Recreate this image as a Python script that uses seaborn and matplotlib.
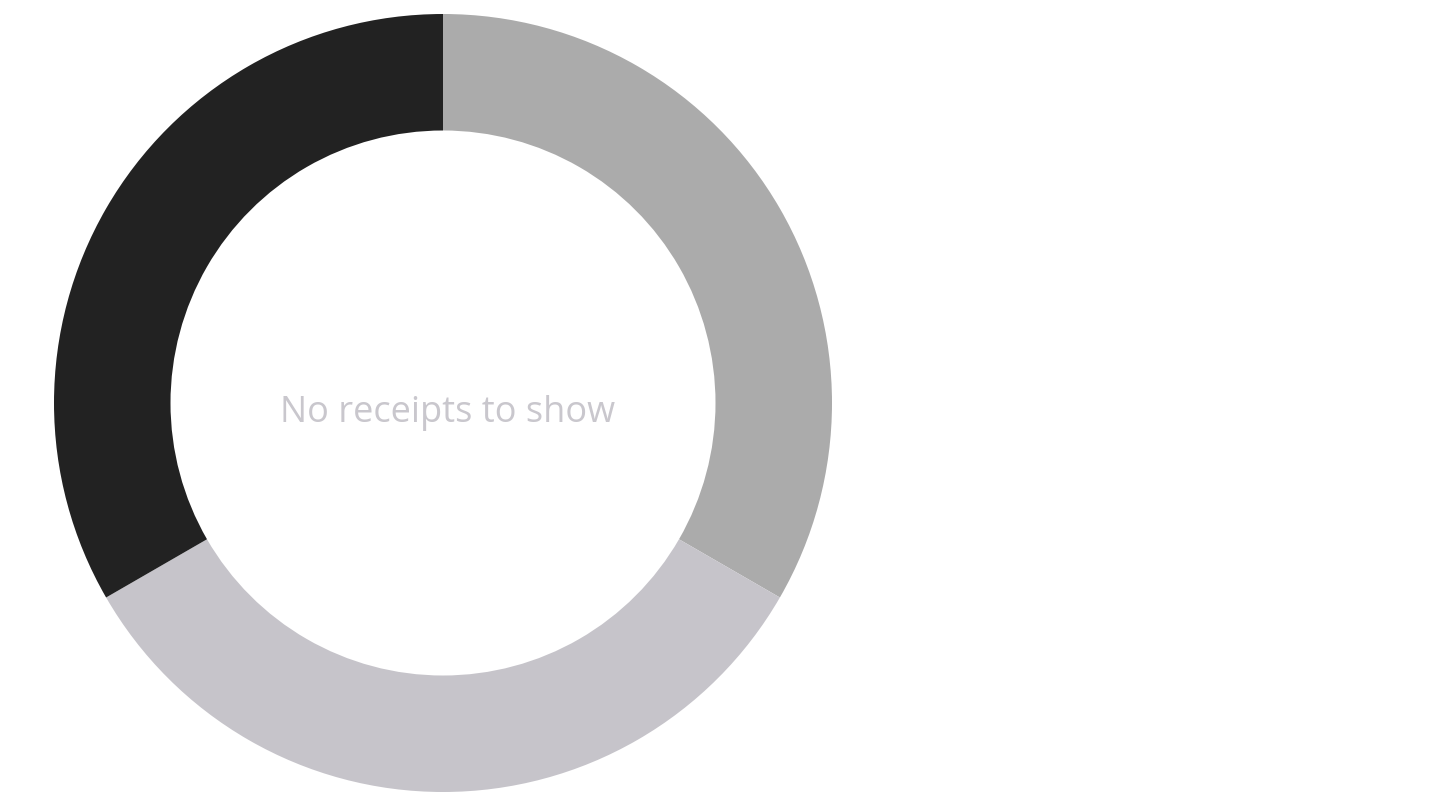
import matplotlib
matplotlib.use("Agg")
import matplotlib.pyplot as plt
import seaborn as sns

slices = ["Slice 1", "Slice 2", "Slice 3"]
shares = [1, 1, 1]
colors = ["#ababab", "#c6c4ca", "#222222"]
message = "No receipts to show"

sns.set_theme(style="white")
plt.rcParams["font.family"] = ["Open Sans", "DejaVu Sans"]

fig = plt.figure(figsize=(14.4, 8.1), dpi=100)
ax = fig.add_axes([0, 0, 1, 1])

# pixel-like coordinates, y measured upward from the bottom
ax.pie(shares, colors=colors, startangle=90, counterclock=False,
       center=(443, 407), radius=389, frame=True,
       wedgeprops=dict(width=116.5, linewidth=0))
ax.set_xlim(0, 1440)
ax.set_ylim(0, 810)
ax.set_aspect("equal")
ax.axis("off")

ax.text(448, 397, message, ha="center", va="center",
        fontsize=26, color="#c9c7cd")

fig.savefig("out.png", dpi=100, facecolor="white")
